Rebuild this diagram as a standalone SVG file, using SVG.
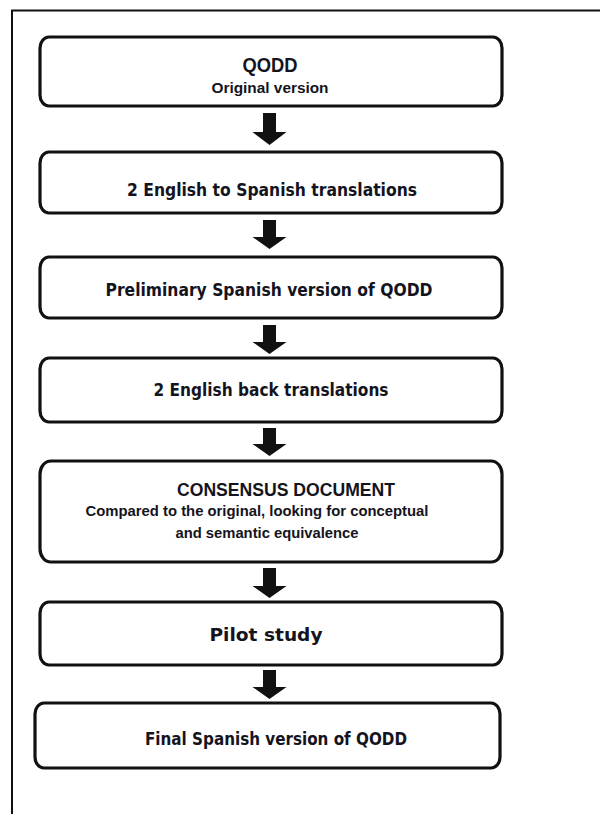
<svg xmlns="http://www.w3.org/2000/svg" width="600" height="814" viewBox="0 0 600 814">
<defs>
<style>
.box{fill:#fff;stroke:#111;stroke-width:3.2}
.frame{fill:none;stroke:#111;stroke-width:2}
.arr{fill:#111}
.a{font-family:"Liberation Sans",Arial,sans-serif;font-weight:bold;fill:#141420;text-anchor:middle}
.t{font-family:"DejaVu Sans",Verdana,sans-serif;font-weight:bold;fill:#141420;text-anchor:middle;font-size:17px}
</style>
</defs>
<rect width="600" height="814" fill="#fff"/>
<path class="frame" d="M12,814 V10.5 H600"/>
<g id="n1">
<rect class="box" x="40" y="37" width="462" height="69" rx="9" ry="11"/>
<text class="a" x="270" y="72" font-size="20" textLength="55" lengthAdjust="spacingAndGlyphs">QODD</text>
<text class="a" x="270" y="93" font-size="14" textLength="117" lengthAdjust="spacingAndGlyphs">Original version</text>
</g>
<g id="n2">
<rect class="box" x="40" y="152" width="462" height="61" rx="9" ry="11"/>
<text class="t" x="272" y="196" textLength="290" lengthAdjust="spacingAndGlyphs">2 English to Spanish translations</text>
</g>
<g id="n3">
<rect class="box" x="40" y="257" width="462" height="61" rx="9" ry="11"/>
<text class="t" x="269" y="296" textLength="327" lengthAdjust="spacingAndGlyphs">Preliminary Spanish version of QODD</text>
</g>
<g id="n4">
<rect class="box" x="40" y="358" width="462" height="64" rx="9" ry="11"/>
<text class="t" x="271" y="396" textLength="235" lengthAdjust="spacingAndGlyphs">2 English back translations</text>
</g>
<g id="n5">
<rect class="box" x="40" y="461" width="462" height="101" rx="11" ry="13"/>
<text class="a" x="286" y="496" font-size="18" font-weight="normal" textLength="218" lengthAdjust="spacingAndGlyphs">CONSENSUS DOCUMENT</text>
<text class="a" x="257" y="516" font-size="14" textLength="343" lengthAdjust="spacingAndGlyphs">Compared to the original, looking for conceptual</text>
<text class="a" x="267" y="538" font-size="14" textLength="183" lengthAdjust="spacingAndGlyphs">and semantic equivalence</text>
</g>
<g id="n6">
<rect class="box" x="40" y="602" width="462" height="63" rx="9" ry="11"/>
<text class="t" x="266" y="641" textLength="113" lengthAdjust="spacingAndGlyphs">Pilot study</text>
</g>
<g id="n7">
<rect class="box" x="35" y="703" width="465" height="65" rx="9" ry="11"/>
<text class="t" x="276" y="745" textLength="262" lengthAdjust="spacingAndGlyphs">Final Spanish version of QODD</text>
</g>
<g id="connectors">
<polygon class="arr" points="263,113 276,113 276,132 286.5,132 269.5,145 252.5,132 263,132"/>
<polygon class="arr" points="263,220 276,220 276,237 286.5,237 269.5,249 252.5,237 263,237"/>
<polygon class="arr" points="263,325 276,325 276,342 286.5,342 269.5,354 252.5,342 263,342"/>
<polygon class="arr" points="263,428 276,428 276,444 286.5,444 269.5,456 252.5,444 263,444"/>
<polygon class="arr" points="263,568 276,568 276,586 286.5,586 269.5,598 252.5,586 263,586"/>
<polygon class="arr" points="263,670 276,670 276,687 286.5,687 269.5,699 252.5,687 263,687"/>
</g>
</svg>
